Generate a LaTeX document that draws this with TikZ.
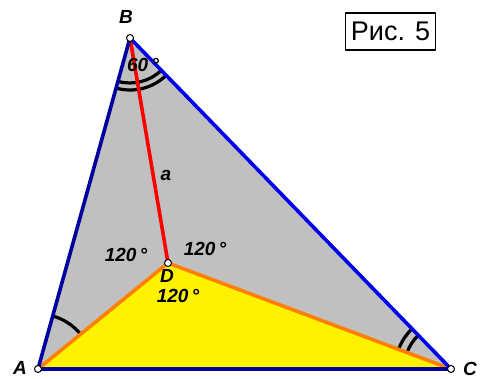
\documentclass[tikz,border=0pt]{standalone}
\usepackage{fontspec}
\setmainfont{Liberation Sans}
\definecolor{navyline}{RGB}{0,0,160}
\definecolor{blueline}{RGB}{0,0,235}
\definecolor{orangeline}{RGB}{255,128,0}
\definecolor{grayfill}{RGB}{192,192,192}

\begin{document}
\begin{tikzpicture}[x=1pt,y=1pt,line join=round,
  lbl/.style={font=\fontsize{19}{23}\selectfont\bfseries\itshape,inner sep=0pt},
  pt/.style={circle,draw,fill=white,line width=1pt,inner sep=0pt,minimum size=7pt},
  mark arc/.style={line width=3.2pt}]
\useasboundingbox (0,0) rectangle (490,379);
\coordinate (A) at (38,10);
\coordinate (B) at (130,341);
\coordinate (C) at (451,10);
\coordinate (D) at (168,116);
\fill[grayfill] (A)--(B)--(C)--cycle;
\fill[yellow] (A)--(D)--(C)--cycle;
\draw[mark arc] (A) ++(39.2:55) arc[start angle=39.2,end angle=74.5,radius=55];
\draw[mark arc] (B) ++(254.5:45) arc[start angle=254.5,end angle=314.1,radius=45];
\draw[mark arc] (B) ++(254.5:52) arc[start angle=254.5,end angle=314.1,radius=52];
\draw[mark arc] (C) ++(134.1:47) arc[start angle=134.1,end angle=159.5,radius=47];
\draw[mark arc] (C) ++(134.1:56) arc[start angle=134.1,end angle=159.5,radius=56];
\draw[orangeline,line width=3.6pt] (A)--(D)--(C);
\draw[red,line width=3.6pt] (B)--(D);
\draw[navyline,line width=3.6pt] (C)--(A)--(B);
\draw[blueline,line width=3.6pt] (B)--(C);
\node[pt] (pA) at (A) {};
\node[pt] (pB) at (B) {};
\node[pt] (pC) at (C) {};
\node[pt] (pD) at (D) {};
\node[lbl] (lA) at (20,11) {A};
\node[lbl] (lB) at (126,362) {B};
\node[lbl] (lC) at (470,10) {C};
\node[lbl] (lD) at (167,103) {D};
\node[lbl] (lb) at (143,314) {60\,°};
\node[lbl] (la) at (166,204) {a};
\node[lbl] (ld1) at (126,124) {120\,°};
\node[lbl] (ld2) at (205,130) {120\,°};
\node[lbl] (ld3) at (178,83) {120\,°};
\node[draw,line width=1.6pt,minimum width=90pt,minimum height=37pt,
  font=\fontsize{27}{32}\selectfont] (fig) at (390.5,347.5) {Рис. 5};
\end{tikzpicture}
\end{document}
